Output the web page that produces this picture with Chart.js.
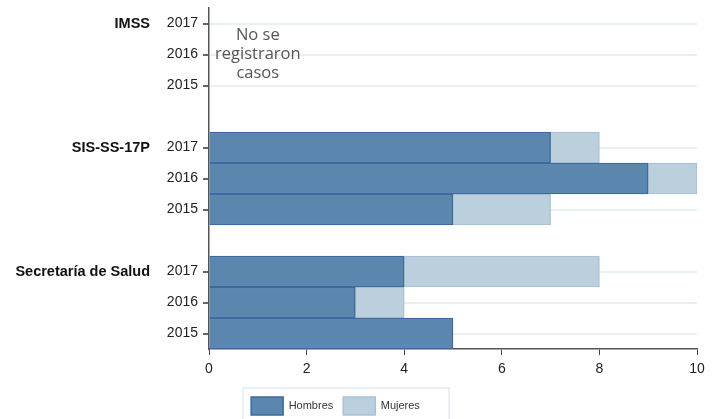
<!DOCTYPE html>
<html>
<head>
<meta charset="utf-8">
<script src="https://cdn.jsdelivr.net/npm/chart.js@4"></script>
<style>
  html, body { margin: 0; padding: 0; background: #fff; overflow: hidden; }
</style>
</head>
<body>
<canvas id="chart" width="719" height="425"></canvas>
<script>
// rows top to bottom, blank rows separate the groups
const years = ['2017', '2016', '2015', '', '2017', '2016', '2015', '', '2017', '2016', '2015'];
const groups = ['IMSS', 'SIS-SS-17P', 'Secretaría de Salud'];
const groupRows = [0, 4, 8];
const hombres = [null, null, null, null, 7, 9, 5, null, 4, 3, 5];
const mujeres = [null, null, null, null, 1, 1, 2, null, 4, 1, 0];
const xTicks = [0, 2, 4, 6, 8, 10];
const noDataNote = ['No se', 'registraron', 'casos'];

const groupLabels = {
    id: 'groupLabels',
    afterLayout(chart) {
        // legend sits a bit left of centre
        chart.legend.left -= 13;
        chart.legend.right -= 13;
    },
    afterDraw(chart) {
        const ctx = chart.ctx;
        const y = chart.scales.y;
        const x = chart.scales.x;
        ctx.save();
        ctx.fillStyle = '#111';
        ctx.font = 'bold 14.5px "Liberation Sans", Arial, sans-serif';
        ctx.textAlign = 'right';
        ctx.textBaseline = 'middle';
        groups.forEach((g, i) => {
            ctx.fillText(g, 150, y.getPixelForValue(groupRows[i]));
        });
        // note for the group with no cases
        ctx.fillStyle = '#555';
        ctx.font = '16.5px "Open Sans", sans-serif';
        ctx.textAlign = 'center';
        const cx = x.getPixelForValue(1);
        const cy = y.getPixelForValue(1);
        noDataNote.forEach((t, i) => {
            ctx.fillText(t, cx, cy + (i - 1) * 19);
        });
        // border round the legend
        ctx.strokeStyle = '#e4ebf0';
        ctx.lineWidth = 1.5;
        ctx.strokeRect(243, 388, 206, 40);
        ctx.restore();
    }
};

new Chart(document.getElementById('chart').getContext('2d'), {
    type: 'bar',
    data: {
        labels: years,
        datasets: [{
            label: 'Hombres',
            data: hombres,
            backgroundColor: '#5b86ae',
            borderColor: '#3d6a9e',
            borderWidth: 1.5,
            barPercentage: 1,
            categoryPercentage: 1
        }, {
            label: 'Mujeres',
            data: mujeres,
            backgroundColor: '#bccfdc',
            borderColor: '#a9c3d6',
            borderWidth: 1.5,
            barPercentage: 1,
            categoryPercentage: 1
        }]
    },
    options: {
        indexAxis: 'y',
        responsive: false,
        animation: false,
        layout: { padding: { top: 8, right: 22, left: 0, bottom: 0 } },
        scales: {
            x: {
                stacked: true,
                min: 0,
                max: 10,
                afterBuildTicks: (scale) => { scale.ticks = xTicks.map(v => ({ value: v })); },
                afterFit: (scale) => { scale.height = 38; },
                border: { color: '#555', width: 1.5 },
                grid: { drawOnChartArea: false, tickLength: 6, tickColor: '#444' },
                ticks: { color: '#222', font: { size: 14, family: '"Liberation Sans", Arial, sans-serif' }, padding: 6 }
            },
            y: {
                stacked: true,
                afterFit: (scale) => {
                    scale.width = 209;
                    scale.paddingTop = 0;
                    scale.paddingBottom = 0;
                },
                border: { color: '#555', width: 1.5 },
                grid: {
                    offset: false,
                    lineWidth: 2,
                    tickLength: 6,
                    color: (c) => years[c.index] ? '#e9f0f4' : 'rgba(0,0,0,0)',
                    tickColor: (c) => years[c.index] ? '#333' : 'rgba(0,0,0,0)',
                    tickWidth: 1.5
                },
                ticks: { color: '#222', font: { size: 14, family: '"Liberation Sans", Arial, sans-serif' }, padding: 5 }
            }
        },
        plugins: {
            legend: {
                position: 'bottom',
                labels: {
                    boxWidth: 32,
                    boxHeight: 18,
                    color: '#333',
                    padding: 10,
                    font: { size: 11, family: '"Liberation Sans", Arial, sans-serif' }
                }
            },
            tooltip: { enabled: false }
        }
    },
    plugins: [groupLabels]
});
</script>
</body>
</html>
